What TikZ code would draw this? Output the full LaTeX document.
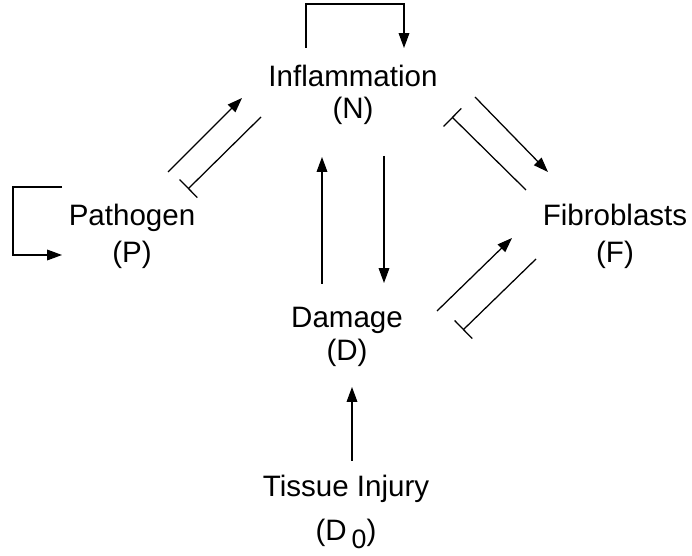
\documentclass[tikz,border=0pt]{standalone}
\usepackage{fontspec}
\setmainfont{Liberation Sans}
\usetikzlibrary{arrows.meta}

\begin{document}
\begin{tikzpicture}[x=0.025cm,y=-0.025cm,
	every node/.style={font=\fontsize{21}{25}\selectfont, align=center, anchor=base},
	act/.style={-{Triangle[length=10.5pt,width=7.5pt]}, line width=0.9pt},
	inh/.style={-{Bar[width=18pt]}, line width=0.9pt}]
	% Khung
	\useasboundingbox (0,0) rectangle (692,556);

	% Cac nut (goc: duong co so cua dong cuoi)
	\node (N) at (353,119) {Inflammation\\[-2pt](N)};
	\node (P) at (132,263) {Pathogen\\[2pt](P)};
	\node (F) at (615,263) {Fibroblasts\\[2pt](F)};
	\node (D) at (347,361) {Damage\\[-1pt](D)};
	\node (D0) at (346,541) {Tissue Injury\\[7pt](D\,\raisebox{-0.5ex}{\fontsize{19}{19}\selectfont 0})};

	% Vong tu kich hoat
	\draw[act] ([shift={(-47,-71)}]N.base) -- ++(0,-44) -| ([shift={(51,-71)}]N.base);
	\draw[act] ([shift={(-70,-76)}]P.base) -- ++(-49,0) |- ([shift={(-70,-8)}]P.base);

	% Pathogen - Inflammation
	\draw[act] ([shift={(36,-91)}]P.base) -- ([shift={(-111,-21)}]N.base);
	\draw[inh] ([shift={(-92,-2)}]N.base) -- ([shift={(56,-74)}]P.base);

	% Inflammation - Fibroblasts
	\draw[act] ([shift={(122,-22)}]N.base) -- ([shift={(-67,-91)}]F.base);
	\draw[inh] ([shift={(-89,-73)}]F.base) -- ([shift={(99,-2)}]N.base);

	% Damage - Fibroblasts
	\draw[act] ([shift={(90,-50)}]D.base) -- ([shift={(-103,-25)}]F.base);
	\draw[inh] ([shift={(-79,-4)}]F.base) -- ([shift={(116,-31)}]D.base);

	% Inflammation - Damage
	\draw[act] ([shift={(31,37)}]N.base) -- ([shift={(37,-78)}]D.base);
	\draw[act] ([shift={(-25,-77)}]D.base) -- ([shift={(-31,38)}]N.base);

	% Tissue Injury
	\draw[act] ([shift={(6,-80)}]D0.base) -- ([shift={(5,26)}]D.base);
\end{tikzpicture}
\end{document}
